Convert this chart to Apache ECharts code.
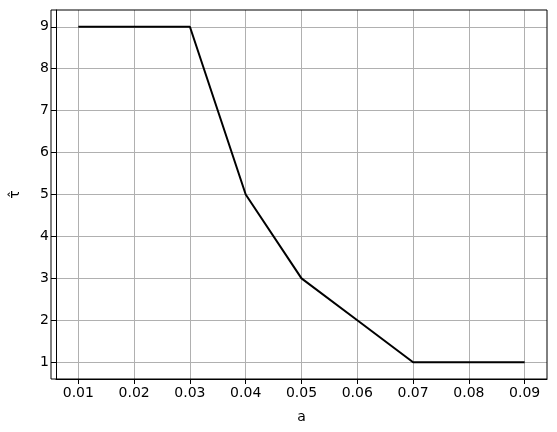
<!DOCTYPE html>
<html><head><meta charset="utf-8">
<script src="https://cdn.jsdelivr.net/npm/echarts@6/dist/echarts.min.js"></script>
<style>html,body{margin:0;padding:0;background:#fff}#c{width:557px;height:432px}</style>
</head><body><div id="c"></div>
<script>
const aValues = [0.01, 0.02, 0.03, 0.04, 0.05, 0.06, 0.07, 0.08, 0.09];
const tauValues = [9, 9, 9, 5, 3, 2, 1, 1, 1];
const xTicks = [0.01, 0.02, 0.03, 0.04, 0.05, 0.06, 0.07, 0.08, 0.09];
const yTicks = [1, 2, 3, 4, 5, 6, 7, 8, 9];

const font = 'DejaVu Sans';
const chart = echarts.init(document.getElementById('c'), null, {renderer: 'canvas'});
chart.setOption({
  animation: false,
  backgroundColor: '#fff',
  grid: {left: 51, right: 10, top: 10, bottom: 53, containLabel: false, show: false},
  xAxis: {
    type: 'value', min: 0.006, max: 0.094,
    name: 'a', nameLocation: 'middle', nameGap: 31,
    nameTextStyle: {fontFamily: font, fontSize: 14, color: '#000'},
    axisLine: {show: true, onZero: false, lineStyle: {color: '#000', width: 1}},
    axisTick: {show: true, inside: false, length: 5, customValues: xTicks, lineStyle: {color: '#000'}},
    axisLabel: {customValues: xTicks, margin: 7, fontFamily: font, fontSize: 14, color: '#000',
      formatter: v => v.toFixed(2)},
    splitLine: {show: true, lineStyle: {color: '#b0b0b0', width: 1}}
  },
  yAxis: {
    type: 'value', min: 0.6, max: 9.4,
    name: 'τ̂', nameLocation: 'middle', nameGap: 34, nameRotate: 90,
    nameTextStyle: {fontFamily: font, fontSize: 14, color: '#000'},
    axisLine: {show: true, onZero: false, lineStyle: {color: '#000', width: 1}},
    axisTick: {show: true, inside: false, length: 5, customValues: yTicks, lineStyle: {color: '#000'}},
    axisLabel: {customValues: yTicks, margin: 7, fontFamily: font, fontSize: 14, color: '#000'},
    splitLine: {show: true, lineStyle: {color: '#b0b0b0', width: 1}}
  },
  series: [{
    type: 'line',
    data: aValues.map((a, i) => [a, tauValues[i]]),
    showSymbol: false,
    lineStyle: {color: '#000', width: 2},
    itemStyle: {color: '#000'}
  }],
  graphic: [{
    type: 'rect', shape: {x: 51, y: 10, width: 496, height: 369}, silent: true, z: 10,
    style: {fill: 'none', stroke: '#000', lineWidth: 1}
  }]
});
</script></body></html>
